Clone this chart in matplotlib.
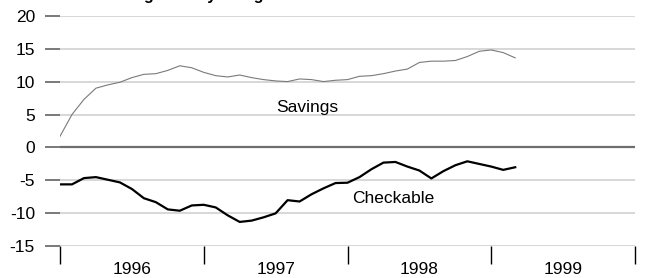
import matplotlib
matplotlib.use("Agg")
import matplotlib.pyplot as plt
import numpy as np

plt.rcParams['font.family'] = ['Liberation Sans', 'DejaVu Sans']

# Monthly data, Jan 1996 - Mar 1999 (percent change from year ago)
savings = [1.7, 5.0, 7.3, 9.0, 9.5, 9.9, 10.6, 11.1, 11.2, 11.7, 12.4, 12.1,
           11.4, 10.9, 10.7, 11.0, 10.6, 10.3, 10.1, 10.0, 10.4, 10.3, 10.0, 10.2,
           10.3, 10.8, 10.9, 11.2, 11.6, 11.9, 12.9, 13.1, 13.1, 13.2, 13.8, 14.6,
           14.8, 14.4, 13.6]
checkable = [-5.6, -5.6, -4.65, -4.5, -4.9, -5.3, -6.3, -7.7, -8.3, -9.4, -9.6, -8.8,
             -8.7, -9.1, -10.3, -11.3, -11.1, -10.6, -10.0, -8.0, -8.2, -7.1, -6.2, -5.4,
             -5.35, -4.5, -3.3, -2.3, -2.2, -2.9, -3.5, -4.7, -3.6, -2.7, -2.1, -2.5,
             -2.9, -3.4, -3.0]
years = ['1996', '1997', '1998', '1999']
yticks = [20, 15, 10, 5, 0, -5, -10, -15]
title = "Percent change from year ago"

months = np.arange(len(savings))
FS = 12.5

fig = plt.figure(figsize=(6.45, 2.78), dpi=100)
ax = fig.add_axes([60/645, 1-246.3/278, 575/645, (246.3-15.7)/278])

for v in yticks:
    if v == 0:
        ax.axhline(v, color='#6e6e6e', lw=1.6, zorder=1)
    else:
        ax.axhline(v, color='#d4d4d4', lw=1.3, zorder=1)

ax.plot(months, savings, color='#7a7a7a', lw=0.8, zorder=3)
ax.plot(months, checkable, color='black', lw=1.6, zorder=3)

ax.set_xlim(0, 48)
ax.set_ylim(-15, 20)
for s in ax.spines.values():
    s.set_visible(False)

ax.set_yticks(yticks)
ax.set_yticklabels([str(v) for v in yticks], fontsize=FS)
ax.tick_params(axis='y', length=11, width=1.3, color='#6e6e6e', pad=7)

ax.set_xticks([0, 12, 24, 36, 48])
ax.set_xticklabels([])
ax.tick_params(axis='x', which='major', direction='out', length=13, width=1.0, color='black')
ax.set_xticks([6, 18, 30, 42], minor=True)
ax.set_xticklabels(years, minor=True, fontsize=FS)
ax.tick_params(axis='x', which='minor', length=0, pad=11.5)

ax.text(20.6, 6.0, 'Savings', fontsize=FS, ha='center', va='center')
ax.text(27.8, -7.7, 'Checkable', fontsize=FS, ha='center', va='center')

fig.text(43/645, 1.0, title, fontsize=11.5, fontweight='bold', ha='left', va='baseline')

fig.savefig('out.png', dpi=100)
